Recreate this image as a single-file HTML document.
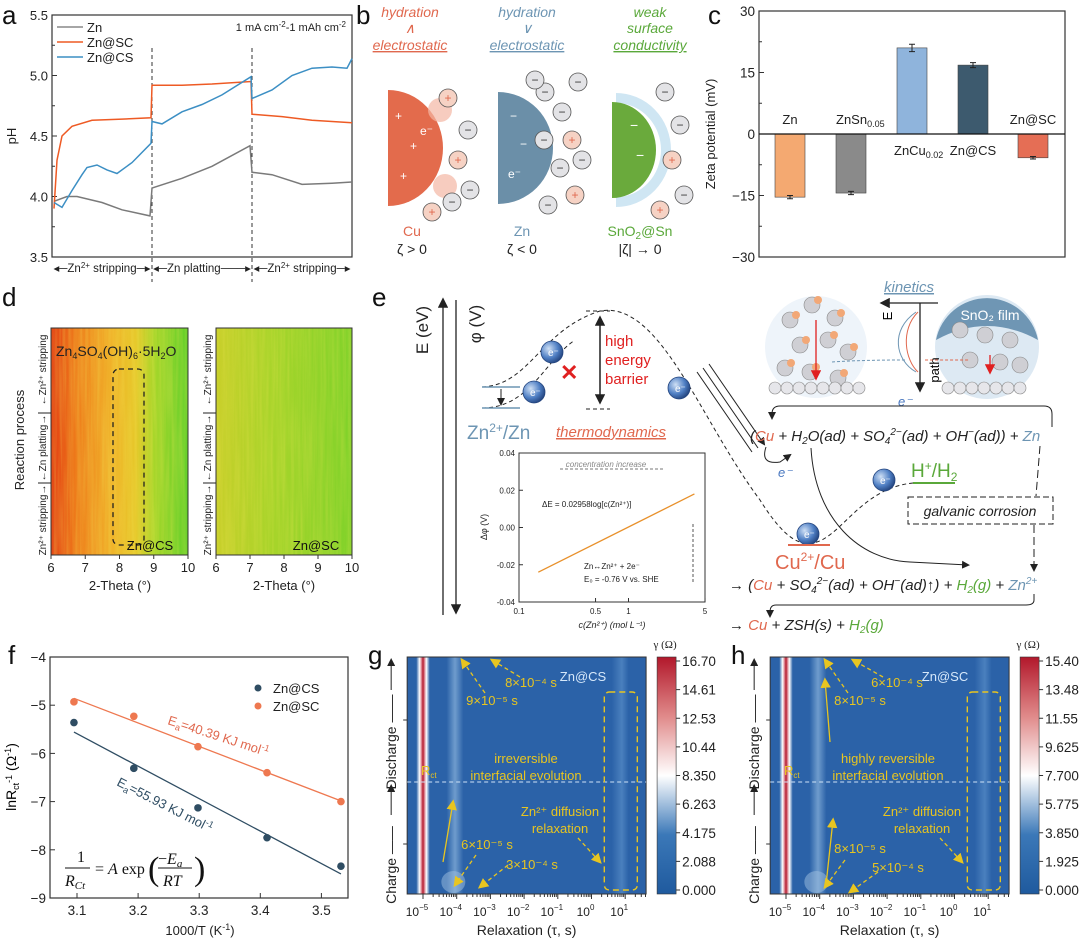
<!DOCTYPE html>
<html><head><meta charset="utf-8">
<style>
html,body{margin:0;padding:0;background:#fff;}
svg{display:block;font-family:"Liberation Sans",Arial,sans-serif;}
.t{font-size:13px;fill:#222;}
.pl{font-size:26px;fill:#111;}
</style></head>
<body>
<svg id="fig" width="1080" height="948" viewBox="0 0 1080 948">
<defs>
  <linearGradient id="cbar" x1="0" y1="1" x2="0" y2="0">
    <stop offset="0" stop-color="#1f5a9e"/><stop offset="0.25" stop-color="#3b78b8"/>
    <stop offset="0.5" stop-color="#ffffff"/><stop offset="0.75" stop-color="#e08a8a"/>
    <stop offset="1" stop-color="#b2182b"/>
  </linearGradient>
  <linearGradient id="dleft" x1="0" y1="0" x2="1" y2="0">
    <stop offset="0" stop-color="#e23a12"/><stop offset="0.18" stop-color="#ee7a1a"/>
    <stop offset="0.45" stop-color="#f0b42a"/><stop offset="0.62" stop-color="#e6c82a"/>
    <stop offset="0.75" stop-color="#a8d62a"/><stop offset="1" stop-color="#5fcf2a"/>
  </linearGradient>
  <linearGradient id="dright" x1="0" y1="0" x2="1" y2="0">
    <stop offset="0" stop-color="#c8cf2a"/><stop offset="0.4" stop-color="#a8d42a"/>
    <stop offset="1" stop-color="#80d22a"/>
  </linearGradient>
  <filter id="streak" x="0" y="0" width="1" height="1">
    <feTurbulence type="fractalNoise" baseFrequency="0.35 0.012" numOctaves="2" seed="3"/>
    <feColorMatrix values="0 0 0 0 0.9  0 0 0 0 0.8  0 0 0 0 0.1  0 0 0 0.9 -0.25"/>
  </filter>
  <radialGradient id="ball" cx="0.35" cy="0.35" r="0.7">
    <stop offset="0" stop-color="#cfe0f5"/><stop offset="0.6" stop-color="#4f7fc4"/><stop offset="1" stop-color="#23447e"/>
  </radialGradient>
  <marker id="ah" markerWidth="8" markerHeight="8" refX="6" refY="4" orient="auto"><path d="M0,0 L8,4 L0,8 z" fill="#222"/></marker>
  <marker id="ahy" markerWidth="8" markerHeight="8" refX="6" refY="4" orient="auto"><path d="M0,0 L8,4 L0,8 z" fill="#e8c520"/></marker>
  <marker id="ahr" markerWidth="8" markerHeight="8" refX="6" refY="4" orient="auto"><path d="M0,0 L8,4 L0,8 z" fill="#e02020"/></marker>
</defs>

<!-- ============ PANEL A ============ -->
<g id="panel-a">
  <text class="pl" x="2" y="24">a</text>
  <rect x="52" y="15" width="300" height="242" fill="none" stroke="#333" stroke-width="1.2"/>
  <g id="a-axis"></g>
  <text class="t" transform="translate(16,136) rotate(-90)" text-anchor="middle">pH</text>
  <line x1="152" y1="48" x2="152" y2="282" stroke="#333" stroke-dasharray="4,3"/>
  <line x1="252" y1="48" x2="252" y2="282" stroke="#333" stroke-dasharray="4,3"/>
  <g id="a-lines"></g>
  <g>
    <line x1="57" y1="27" x2="83" y2="27" stroke="#888" stroke-width="1.5"/>
    <text class="t" x="87" y="32">Zn</text>
    <line x1="57" y1="42" x2="83" y2="42" stroke="#ee5a24" stroke-width="1.5"/>
    <text class="t" x="87" y="47">Zn@SC</text>
    <line x1="57" y1="57" x2="83" y2="57" stroke="#3c8fc4" stroke-width="1.5"/>
    <text class="t" x="87" y="62">Zn@CS</text>
  </g>
  <text x="346" y="31" font-size="11" text-anchor="end" fill="#222">1 mA cm<tspan dy="-4" font-size="8">-2</tspan><tspan dy="4">-1 mAh cm</tspan><tspan dy="-4" font-size="8">-2</tspan></text>
  <text x="102" y="272" font-size="11.5" text-anchor="middle" fill="#222">◂─Zn<tspan dy="-4" font-size="8">2+</tspan><tspan dy="4"> stripping─▸</tspan></text>
  <text x="202" y="272" font-size="11.5" text-anchor="middle" fill="#222">◂─Zn platting───▸</text>
  <text x="302" y="272" font-size="11.5" text-anchor="middle" fill="#222">◂─Zn<tspan dy="-4" font-size="8">2+</tspan><tspan dy="4"> stripping─▸</tspan></text>
</g>

<!-- ============ PANEL B ============ -->
<g id="panel-b">
  <text class="pl" x="356" y="24">b</text>
  <g font-size="14" font-style="italic" text-anchor="middle">
    <text x="410" y="17" fill="#e0684e">hydration</text>
    <text x="410" y="33" fill="#e0684e">∧</text>
    <text x="410" y="50" fill="#e0684e" text-decoration="underline">electrostatic</text>
    <text x="527" y="17" fill="#6d95b3">hydration</text>
    <text x="527" y="33" fill="#6d95b3">∨</text>
    <text x="527" y="50" fill="#6d95b3" text-decoration="underline">electrostatic</text>
    <text x="650" y="17" fill="#5aa83a">weak</text>
    <text x="650" y="33" fill="#5aa83a">surface</text>
    <text x="650" y="50" fill="#5aa83a" text-decoration="underline">conductivity</text>
  </g>
  <path d="M388,90 A55,58 0 0 1 388,206 Z" fill="#e36b4c"/>
  <circle cx="440" cy="110" r="12" fill="#f3b6a4" opacity="0.7"/><circle cx="445" cy="186" r="12" fill="#f3b6a4" opacity="0.7"/>
  <path d="M498,92 A55,56 0 0 1 498,204 Z" fill="#6b8fa8"/>
  <path d="M616,98 A50,52 0 0 1 616,202" fill="none" stroke="#cfe6f3" stroke-width="10"/>
  <path d="M612,102 A44,48 0 0 1 612,198 Z" fill="#6aaa3c"/>
  <g id="b-ions"></g>
  <g font-size="14" text-anchor="middle">
    <text x="412" y="236" fill="#e0684e">Cu</text>
    <text x="412" y="254" fill="#222">ζ &gt; 0</text>
    <text x="522" y="236" fill="#6d95b3">Zn</text>
    <text x="522" y="254" fill="#222">ζ &lt; 0</text>
    <text x="640" y="236" fill="#5aa83a">SnO<tspan font-size="10" dy="3">2</tspan><tspan dy="-3">@Sn</tspan></text>
    <text x="640" y="254" fill="#222">|ζ| → 0</text>
  </g>
</g>

<!-- ============ PANEL C ============ -->
<g id="panel-c">
  <text class="pl" x="708" y="24">c</text>
  <rect x="759" y="11" width="306" height="246" fill="none" stroke="#333" stroke-width="1.2"/>
  <g id="c-axis"></g>
  <g id="c-bars"></g>
  <text class="t" transform="translate(715,134) rotate(-90)" text-anchor="middle" font-size="13.5">Zeta potential (mV)</text>
</g>

<!-- ============ PANEL D ============ -->
<g id="panel-d">
  <text class="pl" x="2" y="306">d</text>
  <rect x="51" y="328" width="137" height="227" fill="url(#dleft)"/>
  <rect x="51" y="328" width="137" height="227" filter="url(#streak)" opacity="0.55"/>
  <rect x="216" y="328" width="136" height="227" fill="url(#dright)"/>
  <rect x="216" y="328" width="136" height="227" filter="url(#streak)" opacity="0.45"/>
  <rect x="51" y="328" width="137" height="227" fill="none" stroke="#333"/>
  <rect x="216" y="328" width="136" height="227" fill="none" stroke="#333"/>
  <rect x="113" y="369" width="31" height="176" rx="6" fill="none" stroke="#222" stroke-dasharray="5,4" stroke-width="1.3"/>
  <text x="56" y="356" font-size="14" fill="#222">Zn<tspan font-size="9" dy="3">4</tspan><tspan dy="-3">SO</tspan><tspan font-size="9" dy="3">4</tspan><tspan dy="-3">(OH)</tspan><tspan font-size="9" dy="3">6</tspan><tspan dy="-3">·5H</tspan><tspan font-size="9" dy="3">2</tspan><tspan dy="-3">O</tspan></text>
  <text x="150" y="550" font-size="13" fill="#111" text-anchor="middle">Zn@CS</text>
  <text x="316" y="550" font-size="13" fill="#111" text-anchor="middle">Zn@SC</text>
  <g id="d-axis"></g>
  <text class="t" x="120" y="590" text-anchor="middle">2-Theta (°)</text>
  <text class="t" x="284" y="590" text-anchor="middle">2-Theta (°)</text>
  <text class="t" transform="translate(24,440) rotate(-90)" text-anchor="middle">Reaction process</text>
  <g font-size="10" fill="#222" text-anchor="middle">
    <text transform="translate(46,370) rotate(-90)">←Zn²⁺ stripping</text>
    <text transform="translate(46,448) rotate(-90)">←Zn platting→</text>
    <text transform="translate(46,520) rotate(-90)">Zn²⁺ stripping→</text>
    <text transform="translate(211,370) rotate(-90)">←Zn²⁺ stripping</text>
    <text transform="translate(211,448) rotate(-90)">←Zn platting→</text>
    <text transform="translate(211,520) rotate(-90)">Zn²⁺ stripping→</text>
  </g>
  <line x1="38" y1="413" x2="51" y2="413" stroke="#222"/><line x1="38" y1="483" x2="51" y2="483" stroke="#222"/>
  <line x1="203" y1="413" x2="216" y2="413" stroke="#222"/><line x1="203" y1="483" x2="216" y2="483" stroke="#222"/>
</g>

<!-- ============ PANEL E ============ -->
<g id="panel-e">
  <text class="pl" x="372" y="306">e</text>
  <line x1="443" y1="615" x2="443" y2="300" stroke="#222" stroke-width="1.3" marker-end="url(#ah)"/>
  <line x1="456" y1="300" x2="456" y2="612" stroke="#222" stroke-width="1.3" marker-end="url(#ah)"/>
  <text transform="translate(428,330) rotate(-90)" font-size="17" text-anchor="middle" fill="#222">E (eV)</text>
  <text transform="translate(481,324) rotate(-90)" font-size="17" text-anchor="middle" fill="#222">φ (V)</text>
  <path d="M482,387 C530,385 540,330 600,311 C660,300 700,420 760,500 C785,540 800,545 812,543 C840,540 860,488 913,483" fill="none" stroke="#222" stroke-dasharray="4,3"/>
  <path d="M482,408 C530,408 545,360 575,340" fill="none" stroke="#222" stroke-dasharray="4,3"/>
  <line x1="482" y1="387" x2="520" y2="387" stroke="#6d95b3" stroke-width="1.5"/>
  <line x1="482" y1="408" x2="520" y2="408" stroke="#6d95b3" stroke-width="1.5"/>
  <line x1="501" y1="389" x2="501" y2="404" stroke="#222" marker-end="url(#ah)"/>
  <line x1="586" y1="311" x2="610" y2="311" stroke="#222" stroke-dasharray="4,3"/>
  <line x1="586" y1="409" x2="610" y2="409" stroke="#222" stroke-dasharray="4,3"/>
  <line x1="600" y1="400" x2="600" y2="318" stroke="#222" stroke-width="1.3" marker-end="url(#ah)"/>
  <line x1="600" y1="320" x2="600" y2="402" stroke="#222" stroke-width="1.3" marker-end="url(#ah)"/>
  <g font-size="15" fill="#e02020">
    <text x="605" y="346">high</text>
    <text x="605" y="365">energy</text>
    <text x="605" y="384">barrier</text>
  </g>
  <text x="560" y="380" font-size="22" fill="#e02020" font-weight="bold">✕</text>
  <text x="467" y="439" font-size="19" fill="#6d95b3">Zn<tspan font-size="12" dy="-7">2+</tspan><tspan dy="7">/Zn</tspan></text>
  <text x="556" y="437" font-size="15" font-style="italic" fill="#e0684e" text-decoration="underline">thermodynamics</text>
  <g id="e-balls"></g>
  <line x1="697" y1="372" x2="752" y2="452" stroke="#222"/><line x1="703" y1="368" x2="758" y2="448" stroke="#222"/><line x1="709" y1="364" x2="764" y2="444" stroke="#222" marker-end="url(#ah)"/>
  <!-- inset -->
  <rect x="519" y="453" width="186" height="149" fill="#fff" stroke="#333"/>
  <g id="inset"></g>
  <line x1="560" y1="469" x2="665" y2="469" stroke="#777" stroke-dasharray="3,2"/>
  <text x="606" y="467" font-size="8" text-anchor="middle" fill="#888" font-style="italic">concentration increase</text>
  <text x="542" y="507" font-size="8" fill="#222">ΔE = 0.02958log[c(Zn²⁺)]</text>
  <text x="584" y="569" font-size="8" fill="#222">Zn↔Zn²⁺ + 2e⁻</text>
  <text x="584" y="582" font-size="8" fill="#222">E₀ = -0.76 V vs. SHE</text>
  <line x1="693" y1="582" x2="693" y2="522" stroke="#555" stroke-dasharray="3,2"/>
  <text transform="translate(487,527) rotate(-90)" font-size="9" text-anchor="middle" fill="#222">Δφ (V)</text>
  <text x="612" y="628" font-size="9" text-anchor="middle" fill="#222" font-style="italic">c(Zn²⁺) (mol L⁻¹)</text>
  <!-- top right schematic -->
  <text x="909" y="292" font-size="15" font-style="italic" fill="#6d95b3" text-decoration="underline" text-anchor="middle">kinetics</text>
  <circle cx="816" cy="347" r="51" fill="#eef4fa"/>
  <circle cx="987" cy="347" r="52" fill="#dde9f3"/>
  <path d="M936,340 A52,52 0 0 1 1038,340 Q987,312 936,340 Z" fill="#6f96b4"/>
  <text x="990" y="320" font-size="14" fill="#fff" text-anchor="middle">SnO₂ film</text>
  <g id="e-atoms"></g>
  <line x1="938" y1="303" x2="882" y2="303" stroke="#222" stroke-width="1.3" marker-end="url(#ah)"/>
  <line x1="920" y1="303" x2="920" y2="390" stroke="#222" stroke-width="1.3" marker-end="url(#ah)"/>
  <text transform="translate(892,316) rotate(-90)" font-size="13" text-anchor="middle">E</text>
  <text transform="translate(939,370) rotate(-90)" font-size="13" text-anchor="middle">path</text>
  <path d="M916,312 C890,330 895,360 916,372" fill="none" stroke="#6d95b3"/>
  <path d="M918,312 C900,330 905,360 918,372" fill="none" stroke="#e0684e"/>
  <line x1="816" y1="320" x2="816" y2="378" stroke="#e02020" stroke-width="1.3" marker-end="url(#ahr)"/>
  <line x1="990" y1="355" x2="990" y2="372" stroke="#e02020" stroke-width="1.3" marker-end="url(#ahr)"/>
  <path d="M905,360 Q860,360 832,362" fill="none" stroke="#6d95b3" stroke-dasharray="3,2"/>
  <path d="M925,360 Q950,360 970,360" fill="none" stroke="#e0684e" stroke-dasharray="3,2"/>
  <text x="898" y="406" font-size="13" fill="#4a78c0" font-style="italic">e⁻</text>
  <!-- reactions -->
  <path d="M1052,427 L1052,414 Q1052,406 1044,406 L780,406 Q772,406 772,414 L772,418" fill="none" stroke="#222" marker-end="url(#ah)"/>
  <text x="750" y="441" font-size="15" font-style="italic" fill="#222">(<tspan fill="#e0684e">Cu</tspan> + H<tspan font-size="10" dy="3">2</tspan><tspan dy="-3">O(ad) + SO</tspan><tspan font-size="10" dy="3">4</tspan><tspan font-size="10" dy="-9">2−</tspan><tspan dy="6">(ad) + OH</tspan><tspan font-size="10" dy="-6">−</tspan><tspan dy="6">(ad)) + </tspan><tspan fill="#6d95b3">Zn</tspan></text>
  <path d="M766,447 Q760,465 780,462 L790,455" fill="none" stroke="#222" marker-end="url(#ah)"/>
  <text x="778" y="477" font-size="13" fill="#4a78c0" font-style="italic">e⁻</text>
  <path d="M811,448 C815,520 860,560 910,562 L968,565" fill="none" stroke="#222" marker-end="url(#ah)"/>
  <line x1="1040" y1="446" x2="1036" y2="496" stroke="#222" stroke-dasharray="8,4"/>
  <rect x="908" y="497" width="145" height="27" fill="none" stroke="#222" stroke-dasharray="6,3"/>
  <text x="980" y="516" font-size="14" font-style="italic" fill="#222" text-anchor="middle">galvanic corrosion</text>
  <line x1="1034" y1="525" x2="1034" y2="570" stroke="#222" stroke-dasharray="8,4" marker-end="url(#ah)"/>
  <text x="911" y="477" font-size="19" fill="#5aa83a">H<tspan font-size="12" dy="-7">+</tspan><tspan dy="7">/H</tspan><tspan font-size="12" dy="4">2</tspan></text>
  <line x1="913" y1="483" x2="955" y2="483" stroke="#5aa83a" stroke-width="2"/>
  <line x1="788" y1="545" x2="830" y2="545" stroke="#e0684e" stroke-width="2"/>
  <text x="775" y="569" font-size="20" fill="#e0684e">Cu<tspan font-size="12" dy="-8">2+</tspan><tspan dy="8">/Cu</tspan></text>
  <text x="729" y="590" font-size="15" font-style="italic" fill="#222">→ (<tspan fill="#e0684e">Cu</tspan> + SO<tspan font-size="10" dy="3">4</tspan><tspan font-size="10" dy="-9">2−</tspan><tspan dy="6">(ad) + OH</tspan><tspan font-size="10" dy="-6">−</tspan><tspan dy="6">(ad)↑) + </tspan><tspan fill="#5aa83a">H<tspan font-size="10" dy="3">2</tspan><tspan dy="-3">(g)</tspan></tspan> + <tspan fill="#6d95b3">Zn<tspan font-size="10" dy="-6">2+</tspan></tspan></text>
  <path d="M1034,594 L1034,600 Q1034,605 1026,605 L776,605 Q770,605 770,612 L770,616" fill="none" stroke="#222" marker-end="url(#ah)"/>
  <text x="729" y="630" font-size="15" font-style="italic" fill="#222">→ <tspan fill="#e0684e">Cu</tspan> + ZSH(s) + <tspan fill="#5aa83a">H<tspan font-size="10" dy="3">2</tspan><tspan dy="-3">(g)</tspan></tspan></text>
</g>

<!-- ============ PANEL F ============ -->
<g id="panel-f">
  <text class="pl" x="8" y="664">f</text>
  <rect x="50" y="657" width="298" height="241" fill="none" stroke="#333" stroke-width="1.2"/>
  <g id="f-axis"></g>
  <g id="f-marks"></g>
  <g>
    <circle cx="258" cy="688" r="3.5" fill="#2f4d63"/><text class="t" x="273" y="693">Zn@CS</text>
    <circle cx="258" cy="706" r="3.5" fill="#ee7850"/><text class="t" x="273" y="711">Zn@SC</text>
  </g>
  <text transform="translate(167,724) rotate(18)" font-size="13" fill="#e0684e">E<tspan font-size="9" dy="3">a</tspan><tspan dy="-3">=40.39 KJ mol</tspan><tspan font-size="9" dy="-5">-1</tspan></text>
  <text transform="translate(116,785) rotate(27)" font-size="13" fill="#2f4d63">E<tspan font-size="9" dy="3">a</tspan><tspan dy="-3">=55.93 KJ mol</tspan><tspan font-size="9" dy="-5">-1</tspan></text>
  <g font-family="Liberation Serif, serif" font-size="16" fill="#111">
    <text x="77" y="862">1</text>
    <line x1="65" y1="868" x2="90" y2="868" stroke="#111"/>
    <text x="65" y="886" font-style="italic">R<tspan font-size="11" dy="3">Ct</tspan></text>
    <text x="95" y="874">= <tspan font-style="italic">A</tspan> exp</text>
    <text x="148" y="880" font-size="34" font-weight="lighter">(</text>
    <text x="158" y="864">−<tspan font-style="italic">E<tspan font-size="11" dy="3">a</tspan></tspan></text>
    <line x1="158" y1="868" x2="192" y2="868" stroke="#111"/>
    <text x="163" y="886" font-style="italic">RT</text>
    <text x="194" y="880" font-size="34">)</text>
  </g>
  <text class="t" x="200" y="935" text-anchor="middle" font-size="14">1000/T (K<tspan font-size="9" dy="-5">-1</tspan><tspan dy="5">)</tspan></text>
  <text transform="translate(16,777) rotate(-90)" font-size="14" text-anchor="middle">lnR<tspan font-size="9" dy="3">ct</tspan><tspan font-size="9" dy="-7">-1</tspan><tspan dy="4"> (Ω</tspan><tspan font-size="9" dy="-5">-1</tspan><tspan dy="5">)</tspan></text>
</g>

<!-- ============ PANEL G/H ============ -->
<g id="panel-g">
  <text class="pl" x="368" y="664">g</text>
</g>
<g id="panel-h">
  <text class="pl" x="731" y="664">h</text>
</g>
</svg>

<script>
// ---------- Panel a data ----------
const aTicks = [3.5, 4.0, 4.5, 5.0, 5.5];
const aZnT  = [0.02,0.15,0.25,0.5,0.7,0.98, 1.0,1.3,1.6,1.98, 2.0,2.2,2.5,2.8,3.0];
const aZnV  = [3.96,4.0,4.0,3.95,3.89,3.84, 4.07,4.15,4.25,4.42, 4.20,4.18,4.10,4.11,4.12];
const aSCT  = [0.02,0.05,0.1,0.2,0.4,0.7,0.99, 1.0,1.3,1.6,1.99, 2.0,2.3,2.6,3.0];
const aSCV  = [3.9,4.3,4.5,4.58,4.63,4.64,4.65, 4.92,4.92,4.93,4.95, 4.68,4.66,4.63,4.61];
const aCST  = [0.02,0.1,0.2,0.3,0.35,0.45,0.55,0.65,0.8,0.99, 1.0,1.1,1.3,1.5,1.7,1.99, 2.0,2.2,2.4,2.6,2.8,2.95,3.0];
const aCSV  = [3.95,3.91,4.05,4.18,4.24,4.26,4.22,4.19,4.28,4.44, 4.62,4.60,4.70,4.76,4.84,4.99, 4.81,4.88,5.0,5.06,5.07,5.06,5.14];
// ---------- Panel c data ----------
const cCats = ["Zn","ZnSn","ZnCu","Zn@CS","Zn@SC"];
const cVals = [-15.4, -14.4, 21.0, 16.8, -5.8];
const cErrs = [0.4, 0.4, 0.9, 0.6, 0.3];
const cTicks = [-30, -15, 0, 15, 30];
// ---------- Panel d ----------
const dTicks = [6, 7, 8, 9, 10];
// ---------- Panel e inset ----------
const insetYTicks = [-0.04, -0.02, 0.00, 0.02, 0.04];
const insetXTicks = [0.1, 0.5, 1, 5];
const insetLineC = [0.15, 4];
const insetLineV = [-0.024, 0.018];
// ---------- Panel f data ----------
const fX = [3.095, 3.193, 3.298, 3.411, 3.532];
const fCS = [-5.36, -6.31, -7.13, -7.75, -8.34];
const fSC = [-4.93, -5.23, -5.86, -6.40, -7.00];
const fXTicks = [3.1, 3.2, 3.3, 3.4, 3.5];
const fYTicks = [-9, -8, -7, -6, -5, -4];
// ---------- Panel g/h ----------
const gCbar = ["0.000","2.088","4.175","6.263","8.350","10.44","12.53","14.61","16.70"];
const hCbar = ["0.000","1.925","3.850","5.775","7.700","9.625","11.55","13.48","15.40"];
const relaxDecades = [-5, -4, -3, -2, -1, 0, 1];

const NS = 'http://www.w3.org/2000/svg';
function mk(tag, parent){ const e = document.createElementNS(NS, tag); parent.appendChild(e); return e; }
function at(e, o){ for (const k in o) e.setAttribute(k, o[k]); return e; }
function txt(parent, x, y, s, o){ const t = mk('text', parent); at(t, Object.assign({x:x, y:y, 'font-size':13, fill:'#222'}, o||{})); t.textContent = s; return t; }

// ===== Panel a =====
(function(){
  const ax = document.getElementById('a-axis'), g = document.getElementById('a-lines');
  const X = t => 52 + t*100, Y = v => 257 - (v-3.5)*121;
  aTicks.forEach(v => {
    const tk = at(mk('line', ax), {x1:52, x2:57, y1:Y(v), y2:Y(v), stroke:'#333'});
    
    
    const l = txt(ax, 48, Y(v)+5, v.toFixed(1), {'text-anchor':'end'});
    
    
    if (v < 5.5) at(mk('line', ax), {x1:52, x2:55, y1:Y(v+0.25), y2:Y(v+0.25), stroke:'#333'});
  });
  function line(ts, vs, col, name){
    const p = at(mk('path', g), {d: ts.map((t,i)=>(i?'L':'M')+X(t).toFixed(1)+','+Y(vs[i]).toFixed(1)).join(' '), fill:'none', stroke:col, 'stroke-width':1.5});
    
    
  }
  line(aZnT, aZnV, '#7a7a7a', 'zn-line');
  line(aSCT, aSCV, '#ee5a24', 'znsc-line');
  line(aCST, aCSV, '#3c8fc4', 'zncs-line');
})();

// ===== Panel b ions =====
(function(){
  const g = document.getElementById('b-ions');
  const ions = [[448,98,'+'],[468,130,'−'],[458,160,'+'],[470,190,'−'],[432,212,'+'],[452,202,'−'],
    [545,92,'−'],[562,112,'−'],[572,140,'+'],[560,168,'−'],[575,195,'+'],[548,205,'−'],[535,80,'−'],[578,82,'−'],[582,160,'−'],[544,140,'−'],
    [665,92,'−'],[680,125,'−'],[672,160,'+'],[684,195,'−'],[660,210,'+']];
  ions.forEach(p => {
    const c = at(mk('circle', g), {cx:p[0], cy:p[1], r:9, fill: p[2]=='+'?'#f6d2c4':'#e3e3e6', stroke:'#555', 'stroke-width':0.8});
    
    
    txt(g, p[0], p[1]+4, p[2], {'text-anchor':'middle', 'font-size':12, fill: p[2]=='+'?'#e0684e':'#333'});
  });
  [[395,120,'+'],[410,150,'+'],[400,180,'+'],[420,135,'e⁻']].forEach(p=>txt(g,p[0],p[1],p[2],{fill:'#fff','font-size':12}));
  [[510,120,'−'],[520,148,'−'],[508,178,'e⁻']].forEach(p=>txt(g,p[0],p[1],p[2],{fill:'#fff','font-size':12}));
  [[630,130,'−'],[636,160,'−']].forEach(p=>txt(g,p[0],p[1],p[2],{fill:'#fff','font-size':14}));
})();

// ===== Panel c =====
(function(){
  const ax = document.getElementById('c-axis'), g = document.getElementById('c-bars');
  const Y = v => 134 - v*4.1;
  const cx = [790, 851, 912, 973, 1033];
  const cols = ['#f4a971','#8a8a8a','#8fb4dc','#3d5a6e','#e56e55'];
  cTicks.forEach(v => {
    at(mk('line', ax), {x1:759, x2:764, y1:Y(v), y2:Y(v), stroke:'#333'});
    const l = txt(ax, 755, Y(v)+5, v===0?'0':(v<0?'−'+(-v):String(v)), {'text-anchor':'end','font-size':13.5});
    
    
    if (v<30) at(mk('line', ax), {x1:759, x2:762, y1:Y(v+7.5), y2:Y(v+7.5), stroke:'#333'});
  });
  cVals.forEach((v,i) => {
    const r = at(mk('rect', g), {x:cx[i]-15, y:Math.min(Y(v),Y(0)), width:30, height:Math.abs(Y(v)-Y(0)), fill:cols[i], stroke:'#444', 'stroke-width':0.6});
    
    
    const e = cErrs[i];
    at(mk('path', g), {d:`M${cx[i]},${Y(v+e)} V${Y(v-e)} M${cx[i]-3},${Y(v+e)} H${cx[i]+3} M${cx[i]-3},${Y(v-e)} H${cx[i]+3}`, stroke:'#222', fill:'none'});
  });
  at(mk('line', g), {x1:759, x2:1065, y1:Y(0), y2:Y(0), stroke:'#111', 'stroke-width':1.3});
  const lab = [[790,124,'Zn'],[1033,124,'Zn@SC'],[973,155,'Zn@CS']];
  lab.forEach(p => { const t = txt(g, p[0], p[1], p[2], {'text-anchor':'middle'});   });
  const t1 = txt(g, 836, 124, 'ZnSn', {}); const s1 = mk('tspan', t1); at(s1, {'font-size':9, dy:3}); s1.textContent='0.05';
  
  
  const t2 = txt(g, 894, 155, 'ZnCu', {}); const s2 = mk('tspan', t2); at(s2, {'font-size':9, dy:3}); s2.textContent='0.02';
  
  
})();

// ===== Panel d axes =====
(function(){
  const ax = document.getElementById('d-axis');
  [[51,137],[216,136]].forEach(b => {
    dTicks.forEach(v => {
      const x = b[0] + (v-6)*b[1]/4;
      at(mk('line', ax), {x1:x, x2:x, y1:555, y2:559, stroke:'#333'});
      const l = txt(ax, x, 572, String(v), {'text-anchor':'middle'});
      
      
    });
  });
})();

// ===== Panel e electrons/atoms =====
(function(){
  const g = document.getElementById('e-balls');
  [[552,352],[534,392],[679,388],[808,534],[884,480]].forEach(p => {
    const c = at(mk('circle', g), {cx:p[0], cy:p[1], r:11, fill:'url(#ball)', stroke:'#23447e', 'stroke-width':0.8});
    
    
    txt(g, p[0]-4, p[1]+4, 'e⁻', {'font-size':10, fill:'#fff'});
  });
  const a = document.getElementById('e-atoms');
  const pts = [[790,320],[812,305],[835,318],[800,345],[828,340],[848,352],[785,368],[810,372],[838,378],[960,330],[985,335],[1010,340],[970,360],[1000,362],[1020,365]];
  pts.forEach((p,i) => {
    at(mk('circle', a), {cx:p[0], cy:p[1], r:8, fill:'#cfcfd4', stroke:'#888', 'stroke-width':0.6});
    if (p[0] < 900) at(mk('circle', a), {cx:p[0]+6, cy:p[1]-5, r:4, fill:'#f2a877'});
  });
  for (let x=775; x<=860; x+=12) at(mk('circle', a), {cx:x, cy:388, r:6, fill:'#e6e6ea', stroke:'#888', 'stroke-width':0.6});
  for (let x=948; x<=1028; x+=12) at(mk('circle', a), {cx:x, cy:388, r:6, fill:'#e6e6ea', stroke:'#888', 'stroke-width':0.6});
})();

// ===== Panel e inset =====
(function(){
  const g = document.getElementById('inset');
  const X = c => 519 + (Math.log10(c) + 1) * 109.5, Y = v => 527.5 - v*1862.5;
  insetYTicks.forEach(v => { at(mk('line', g), {x1:519, x2:523, y1:Y(v), y2:Y(v), stroke:'#333'}); txt(g, 515, Y(v)+3, v.toFixed(2), {'text-anchor':'end','font-size':8}); });
  insetXTicks.forEach(v => { at(mk('line', g), {x1:X(v), x2:X(v), y1:602, y2:598, stroke:'#333'}); txt(g, X(v), 614, String(v), {'text-anchor':'middle','font-size':8}); });
  const p = at(mk('line', g), {x1:X(insetLineC[0]), y1:Y(insetLineV[0]), x2:X(insetLineC[1]), y2:Y(insetLineV[1]), stroke:'#e8902a', 'stroke-width':1.3});
  
  
})();

// ===== Panel f =====
(function(){
  const ax = document.getElementById('f-axis'), g = document.getElementById('f-marks');
  const X = v => 77 + (v-3.1)*611, Y = v => 657 - (v+4)*48.2;
  fXTicks.forEach(v => { at(mk('line', ax), {x1:X(v), x2:X(v), y1:898, y2:893, stroke:'#333'});
    const l = txt(ax, X(v), 915, v.toFixed(1), {'text-anchor':'middle','font-size':13.5});   });
  fYTicks.forEach(v => { at(mk('line', ax), {x1:50, x2:55, y1:Y(v), y2:Y(v), stroke:'#333'});
    const l = txt(ax, 46, Y(v)+5, '−'+(-v), {'text-anchor':'end','font-size':13.5});   });
  function fit(ys){ const n=fX.length, mx=fX.reduce((a,b)=>a+b)/n, my=ys.reduce((a,b)=>a+b)/n;
    let sxy=0,sxx=0; fX.forEach((x,i)=>{sxy+=(x-mx)*(ys[i]-my); sxx+=(x-mx)*(x-mx);}); const b=sxy/sxx; return [b, my-b*mx]; }
  [[fCS,'#2f4d63','zncs'],[fSC,'#ee7850','znsc']].forEach(s => {
    const [b,a] = fit(s[0]);
    const L = at(mk('line', g), {x1:X(fX[0]), y1:Y(a+b*fX[0]), x2:X(fX[4]), y2:Y(a+b*fX[4]), stroke:s[1], 'stroke-width':1.3});
    
    
    s[0].forEach((v,i) => {
      const c = at(mk('circle', g), {cx:X(fX[i]), cy:Y(v), r:3.8, fill:s[1]});
      
      
    });
  });
})();

// ===== Panels g & h =====
function drt(gid, x0, x10, tag, cbar, texts){
  const g = document.getElementById(gid);
  const dec = 33.7, X = p => x10 + (p+5)*dec;
  const L = X(-5.47), R = X(1.62), T = 657, B = 894;
  const id = gid + '-grad';
  const lg = at(mk('linearGradient', g), {id:id, x1:0, y1:0, x2:1, y2:0});
  const xs = v => ((v - L)/(R - L)).toFixed(4);
  const stops = [[L,'#2b62a8'],[X(-5.2),'#2b62a8'],[X(-5.1),'#ffffff'],[X(-5.03),'#d06070'],[X(-5),'#b2182b'],[X(-4.97),'#d06070'],[X(-4.9),'#ffffff'],[X(-4.8),'#2b62a8'],
    [X(-4.3),'#2b62a8'],[X(-4.05),'#6f9ccd'],[X(-3.8),'#2b62a8'],[X(0.6),'#2b62a8'],[X(0.9),'#4a80be'],[X(1.1),'#2b62a8'],[R,'#2b62a8']];
  stops.forEach(s => at(mk('stop', lg), {offset:xs(s[0]), 'stop-color':s[1]}));
  const hm = at(mk('rect', g), {x:L, y:T, width:R-L, height:B-T, fill:'url(#'+id+')', stroke:'#333'});
  
  
  at(mk('ellipse', g), {cx:X(-4.1), cy:882, rx:12, ry:11, fill:'#9fbfe0', opacity:0.5});
  // x axis
  relaxDecades.forEach(p => {
    at(mk('line', g), {x1:X(p), x2:X(p), y1:B, y2:B+5, stroke:'#333'});
    for (let k=2;k<10;k++){ const xm = X(p+Math.log10(k)); if (xm<R) at(mk('line', g), {x1:xm, x2:xm, y1:B, y2:B+3, stroke:'#333'}); }
    const t = txt(g, X(p)-6, 916, '10', {'text-anchor':'middle','font-size':12});
    const s = mk('tspan', t); at(s, {'font-size':8, dy:-6}); s.textContent = String(p).replace('-','−');
    
    
  });
  const xt = txt(g, (L+R)/2, 935, 'Relaxation (τ, s)', {'text-anchor':'middle','font-size':14});
  
  
  // y labels
  const d1 = txt(g, 0, 0, 'Discharge ——', {'text-anchor':'middle','font-size':14, transform:`translate(${L-11},742) rotate(-90)`});
  
  
  const c1 = txt(g, 0, 0, 'Charge ——', {'text-anchor':'middle','font-size':14, transform:`translate(${L-11},865) rotate(-90)`});
  
  
  at(mk('line', g), {x1:L-16, x2:L-16, y1:690, y2:660, stroke:'#222', 'marker-end':'url(#ah)'});
  at(mk('line', g), {x1:L-16, x2:L-16, y1:815, y2:786, stroke:'#222', 'marker-end':'url(#ah)'});
  [720, 844].forEach(y => at(mk('line', g), {x1:L-4, x2:L, y1:y, y2:y, stroke:'#333'}));
  at(mk('line', g), {x1:L, x2:R, y1:782, y2:782, stroke:'#cfe3f7', 'stroke-dasharray':'4,3'});
  at(mk('rect', g), {x:X(0.38), y:692, width:33, height:198, rx:5, fill:'none', stroke:'#e8c520', 'stroke-dasharray':'6,4', 'stroke-width':1.4});
  // colorbar
  const cbx = R + 11;
  const cb = at(mk('rect', g), {x:cbx, y:T, width:19, height:B-T, fill:'url(#cbar)', stroke:'#333', 'stroke-width':0.6});
  
  
  cbar.forEach((s,i) => {
    const y = 890 - i*(890-661)/(cbar.length-1);
    at(mk('line', g), {x1:cbx+19, x2:cbx+23, y1:y, y2:y, stroke:'#333'});
    const t = txt(g, cbx+25, y+5, s, {'font-size':13.5});
    
    
  });
  txt(g, cbx+8, 648, 'γ (Ω)', {'text-anchor':'middle','font-size':11,'font-family':'Liberation Serif, serif'});
  // annotations
  const Y = '#e8c520';
  texts.forEach(a => {
    const t = txt(g, a[0], a[1], a[2], {'text-anchor':'middle','font-size':13, fill:a[3]||Y});
    
    
  });
  const rct = txt(g, X(-5)-2, 775, 'R', {'font-size':13, fill:Y}); const rs = mk('tspan', rct); at(rs, {'font-size':8, dy:3}); rs.textContent='ct';
  
  
  return {X:X, L:L, R:R};
}
const G = drt('panel-g', 407, 423, 'g', gCbar, [
  [531,687,'8×10⁻⁴ s'],[492,705,'9×10⁻⁵ s'],[583,681,'Zn@CS','#d6e8fa'],
  [526,763,'irreversible'],[526,780,'interfacial evolution'],
  [560,816,'Zn²⁺ diffusion'],[560,833,'relaxation'],[487,849,'6×10⁻⁵ s'],[532,869,'3×10⁻⁴ s']]);
const H = drt('panel-h', 769, 786, 'h', hCbar, [
  [897,687,'6×10⁻⁴ s'],[860,705,'8×10⁻⁵ s'],[945,681,'Zn@SC','#d6e8fa'],
  [888,763,'highly reversible'],[888,780,'interfacial evolution'],
  [922,816,'Zn²⁺ diffusion'],[922,833,'relaxation'],[860,853,'8×10⁻⁵ s'],[898,872,'5×10⁻⁴ s']]);
(function(){
  const Y = '#e8c520';
  function arr(gid, x1,y1,x2,y2,dash){ const g=document.getElementById(gid); at(mk('line', g), {x1:x1,y1:y1,x2:x2,y2:y2,stroke:Y,'stroke-width':1.3,'stroke-dasharray':dash?'4,3':'none','marker-end':'url(#ahy)'}); }
  arr('panel-g',520,677,492,660,1); arr('panel-g',485,693,462,660,1); arr('panel-g',443,862,453,802,0);
  arr('panel-g',476,855,455,885,1); arr('panel-g',508,865,480,887,1); arr('panel-g',578,838,600,862,1);
  arr('panel-h',883,677,853,660,1); arr('panel-h',848,693,825,660,1); arr('panel-h',830,742,825,680,0);
  arr('panel-h',826,885,833,820,0); arr('panel-h',845,860,825,887,1); arr('panel-h',878,872,850,892,1); arr('panel-h',940,838,962,862,1);
})();
</script>
</body></html>
